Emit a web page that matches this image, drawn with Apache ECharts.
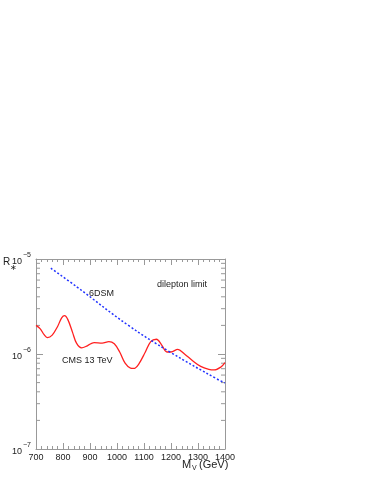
<!DOCTYPE html>
<html>
<head>
<meta charset="utf-8">
<script src="https://cdn.jsdelivr.net/npm/echarts@6/dist/echarts.min.js"></script>
</head>
<body style="margin:0">
<div id="main" style="width:374px;height:484px"></div>
<script>
// CMS 13 TeV dilepton limit (red)
var cmsMass = [700, 715, 730, 742, 760, 780, 795, 806, 818, 835, 850, 869, 890, 915, 945, 970, 990, 1010, 1030, 1050, 1062, 1080, 1105, 1125, 1146, 1165, 1185, 1200, 1225, 1250, 1280, 1310, 1340, 1360, 1385, 1400];
var cmsR = [2.0e-6, 1.85e-6, 1.6e-6, 1.49e-6, 1.58e-6, 1.95e-6, 2.4e-6, 2.53e-6, 2.3e-6, 1.7e-6, 1.3e-6, 1.16e-6, 1.22e-6, 1.32e-6, 1.30e-6, 1.35e-6, 1.28e-6, 1.05e-6, 8.0e-7, 7.1e-7, 7.05e-7, 7.8e-7, 1.05e-6, 1.35e-6, 1.43e-6, 1.25e-6, 1.05e-6, 1.05e-6, 1.12e-6, 1.0e-6, 8.5e-7, 7.4e-7, 6.9e-7, 6.8e-7, 7.3e-7, 8.1e-7];
// 6DSM prediction (blue dashed)
var dsmMass = [755, 852, 1040, 1196, 1370, 1400];
var dsmR = [8.0e-6, 5.07e-6, 2.02e-6, 1.05e-6, 5.46e-7, 4.96e-7];
// minor log ticks
var logMinor = [2e-7, 3e-7, 4e-7, 5e-7, 6e-7, 7e-7, 8e-7, 9e-7, 2e-6, 3e-6, 4e-6, 5e-6, 6e-6, 7e-6, 8e-6, 9e-6];

function pairs(xs, ys) {
    return xs.map(function (x, i) { return [x, ys[i]]; });
}

var chart = echarts.init(document.getElementById('main'));
var axisCol = '#999';
var font = 'Liberation Sans';

var xBase = {
    type: 'value', min: 700, max: 1400, interval: 100,
    axisLine: {onZero: false, lineStyle: {color: axisCol, width: 1}},
    axisTick: {inside: true, length: 6, lineStyle: {color: axisCol}},
    minorTick: {show: true, splitNumber: 5, length: 3, lineStyle: {color: axisCol}},
    splitLine: {show: false}
};
var yBase = {
    type: 'log', logBase: 10, min: 1e-7, max: 1e-5,
    axisLine: {show: true, lineStyle: {color: axisCol, width: 1}},
    axisTick: {inside: true, length: 7, lineStyle: {color: axisCol}},
    splitLine: {show: false}
};

var option = {
    animation: false,
    grid: {left: 36, top: 259, width: 189, height: 190},
    xAxis: [
        echarts.util.merge({
            position: 'bottom',
            axisLabel: {color: '#222', fontSize: 9, fontFamily: font, margin: 4,
                        formatter: function (v) { return String(v); }}
        }, xBase),
        echarts.util.merge({position: 'top', axisLabel: {show: false}}, xBase)
    ],
    yAxis: [
        echarts.util.merge({
            position: 'left',
            axisLabel: {
                color: '#222', fontFamily: font, margin: 5,
                formatter: function (v) {
                    var e = Math.round(Math.log10(v));
                    return '{b|10}{s|\u2212' + (-e) + '}';
                },
                rich: {
                    b: {fontSize: 9, fontFamily: font, color: '#222', verticalAlign: 'bottom', padding: [6, 0, 0, 0]},
                    s: {fontSize: 7, fontFamily: font, color: '#222', verticalAlign: 'top', padding: [0, 0, 6, 1]}
                }
            }
        }, yBase),
        echarts.util.merge({position: 'right', axisLabel: {show: false}}, yBase)
    ],
    graphic: [
        {type: 'text', left: 3, top: 257,
         style: {text: 'R', font: '10px Liberation Sans', fill: '#222'}},
        {type: 'text', left: 10, top: 264,
         style: {text: '\u2217', font: '8px Liberation Sans', fill: '#222'}},
        {type: 'text', left: 182, top: 459,
         style: {text: 'M', font: '11px Liberation Sans', fill: '#222'}},
        {type: 'text', left: 192, top: 465,
         style: {text: 'V', font: '7px Liberation Sans', fill: '#222'}},
        {type: 'text', left: 199, top: 459,
         style: {text: '(GeV)', font: '11px Liberation Sans', fill: '#222'}},
        {type: 'text', left: 89, top: 289,
         style: {text: '6DSM', font: '9px Liberation Sans', fill: '#222'}},
        {type: 'text', left: 157, top: 280,
         style: {text: 'dilepton limit', font: '9px Liberation Sans', fill: '#222'}},
        {type: 'text', left: 62, top: 356,
         style: {text: 'CMS 13 TeV', font: '9px Liberation Sans', fill: '#222'}}
    ],
    series: [
        {
            type: 'line', name: 'CMS', data: pairs(cmsMass, cmsR),
            smooth: 0.35, showSymbol: false,
            lineStyle: {color: '#ff2020', width: 1.3}
        },
        {
            type: 'line', name: '6DSM', data: pairs(dsmMass, dsmR),
            smooth: 0.4, showSymbol: false,
            lineStyle: {color: '#2233ff', width: 1.5, type: [2, 2]}
        },
        {
            type: 'custom', name: 'ticks', silent: true,
            data: logMinor.map(function (v) { return [700, v]; }),
            renderItem: function (params, api) {
                var v = api.value(1);
                var l = api.coord([700, v]);
                var r = api.coord([1400, v]);
                return {
                    type: 'group',
                    children: [
                        {type: 'line', shape: {x1: l[0], y1: l[1], x2: l[0] + 4, y2: l[1]}, style: {stroke: axisCol, lineWidth: 1}},
                        {type: 'line', shape: {x1: r[0], y1: r[1], x2: r[0] - 4, y2: r[1]}, style: {stroke: axisCol, lineWidth: 1}}
                    ]
                };
            }
        }
    ]
};
chart.setOption(option);
</script>
</body>
</html>
